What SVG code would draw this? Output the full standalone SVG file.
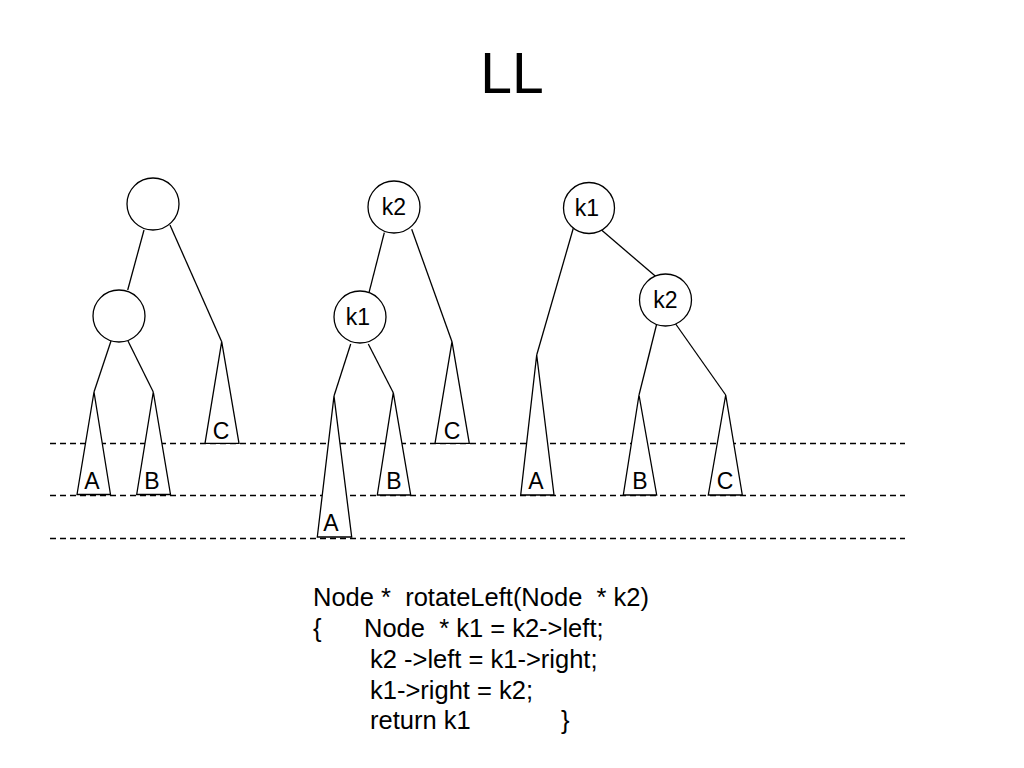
<svg xmlns="http://www.w3.org/2000/svg" width="1024" height="768" viewBox="0 0 1024 768">
<style>
.ln{stroke:#000;stroke-width:1.3;fill:none}
.nd{stroke:#000;stroke-width:1.3;fill:#fff}
.tri{stroke:#000;stroke-width:1.3;fill:#fff;stroke-linejoin:miter}
.dash{stroke:#000;stroke-width:1.3;stroke-dasharray:6,4}
.lb{font-family:"Liberation Sans",Arial,sans-serif;font-size:23px;text-anchor:middle;fill:#000}
.code{font-family:"Liberation Sans",Arial,sans-serif;font-size:25.5px;fill:#000}
.title{font-family:"Liberation Sans",Arial,sans-serif;font-size:57px;text-anchor:middle;fill:#000}
</style>
<rect width="1024" height="768" fill="#fff"/>
<text class="title" x="512" y="93">LL</text>
<g id="guides">
<line class="dash" x1="50" y1="443.5" x2="905" y2="443.5"/>
<line class="dash" x1="50" y1="495.5" x2="905" y2="495.5"/>
<line class="dash" x1="50" y1="538.5" x2="905" y2="538.5"/>
</g>
<g id="connectors">
<line class="ln" x1="144" y1="230" x2="127.7" y2="290"/>
<line class="ln" x1="170" y1="225" x2="221.7" y2="341.7"/>
<line class="ln" x1="111" y1="341" x2="94" y2="392"/>
<line class="ln" x1="128" y1="341" x2="153.3" y2="392"/>
<line class="ln" x1="384.3" y1="232.7" x2="369" y2="292.7"/>
<line class="ln" x1="411.7" y1="229.3" x2="452" y2="341.7"/>
<line class="ln" x1="350.7" y1="344" x2="334" y2="396"/>
<line class="ln" x1="368.3" y1="344" x2="393.3" y2="392.7"/>
<line class="ln" x1="598.3" y1="227.3" x2="656.7" y2="277.3"/>
<line class="ln" x1="573.3" y1="228.3" x2="536.7" y2="355"/>
<line class="ln" x1="656.7" y1="324" x2="639" y2="395"/>
<line class="ln" x1="675.7" y1="324" x2="725.7" y2="395"/>
</g>
<g id="tree1-root"><circle class="nd" cx="153" cy="204" r="26"/></g>
<g id="tree1-child"><circle class="nd" cx="119" cy="316" r="26"/></g>
<g id="tree1-A"><polygon class="tri" points="94,392 77,494.5 110.5,494.5"/><text class="lb" x="92" y="489">A</text></g>
<g id="tree1-B"><polygon class="tri" points="153.3,392 136.7,494.5 170.5,494.5"/><text class="lb" x="152" y="489">B</text></g>
<g id="tree1-C"><polygon class="tri" points="221.7,341.7 205,443.3 239,443.3"/><text class="lb" x="221" y="439">C</text></g>
<g id="tree2-k2"><circle class="nd" cx="394" cy="207" r="26"/><text class="lb" x="394" y="215">k2</text></g>
<g id="tree2-k1"><circle class="nd" cx="360" cy="317" r="26"/><text class="lb" x="358" y="325">k1</text></g>
<g id="tree2-A"><polygon class="tri" points="334,396 317.3,537 351.7,537"/><text class="lb" x="331" y="531">A</text></g>
<g id="tree2-B"><polygon class="tri" points="393.3,392.7 377.3,495 410.7,495"/><text class="lb" x="394" y="489">B</text></g>
<g id="tree2-C"><polygon class="tri" points="452,341.7 435,443.3 469.3,443.3"/><text class="lb" x="452" y="439">C</text></g>
<g id="tree3-k1"><circle class="nd" cx="589" cy="208" r="25.5"/><text class="lb" x="587" y="216">k1</text></g>
<g id="tree3-k2"><circle class="nd" cx="665.5" cy="300" r="26"/><text class="lb" x="665.5" y="308">k2</text></g>
<g id="tree3-A"><polygon class="tri" points="536.7,355 520.7,495 554,495"/><text class="lb" x="536" y="489">A</text></g>
<g id="tree3-B"><polygon class="tri" points="639,395 623.3,495 656.7,495"/><text class="lb" x="640" y="489">B</text></g>
<g id="tree3-C"><polygon class="tri" points="725.7,395 708.3,495 742.3,495"/><text class="lb" x="725" y="489">C</text></g>
<g id="code">
<text class="code" x="313" y="606" xml:space="preserve">Node *  rotateLeft(Node  * k2)</text>
<text class="code" x="313" y="637">{</text>
<text class="code" x="364" y="637" xml:space="preserve">Node  * k1 = k2-&gt;left;</text>
<text class="code" x="370" y="668">k2 -&gt;left = k1-&gt;right;</text>
<text class="code" x="370" y="699">k1-&gt;right = k2;</text>
<text class="code" x="370" y="729">return k1</text>
<text class="code" x="561" y="729">}</text>
</g>
</svg>
